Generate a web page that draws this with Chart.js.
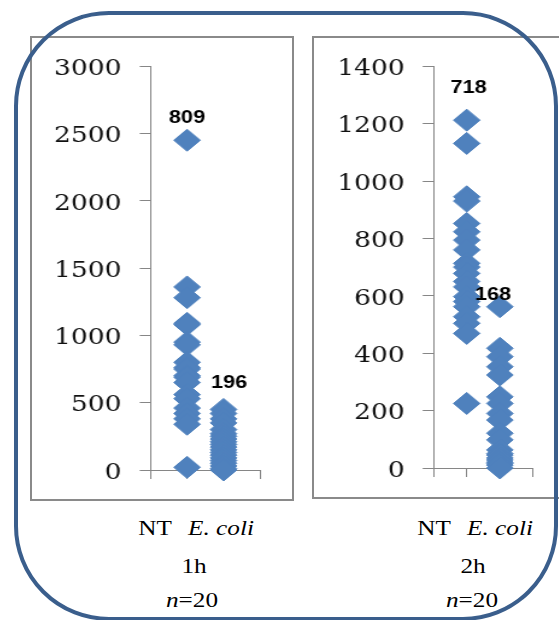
<!DOCTYPE html>
<html>
<head>
<meta charset="utf-8">
<script src="https://cdn.jsdelivr.net/npm/chart.js@4.4.1/dist/chart.umd.min.js"></script>
<style>
  body { margin:0; width:559px; height:620px; overflow:hidden; background:#fff; position:relative; }
  .frame { position:absolute; left:14px; top:11px; width:544px; height:610px; box-sizing:border-box;
           border:4.5px solid #3a5e8c; border-radius:95px; z-index:5; pointer-events:none; }
  .panel { position:absolute; border:2px solid #8a8a8a; background:#fff; box-sizing:border-box; overflow:hidden; }
  .stretch { position:absolute; left:0; top:0; transform:scaleX(1.2); transform-origin:0 0; }
  .lbl { position:absolute; font-family:'Liberation Serif', serif; font-size:21px; color:#000;
         white-space:nowrap; transform:translate(-50%,-50%) scaleX(1.2); }
</style>
</head>
<body>
<div class="panel" style="left:30px;top:36px;width:264px;height:465px;">
  <div class="stretch" style="width:216.67px;height:461px;"><canvas id="c1"></canvas></div>
</div>
<div class="panel" style="left:312px;top:36px;width:270px;height:463px;">
  <div class="stretch" style="width:221.67px;height:459px;"><canvas id="c2"></canvas></div>
</div>

<div class="lbl" style="left:155px;top:528px;">NT</div>
<div class="lbl" style="left:221px;top:528px;"><i>E. coli</i></div>
<div class="lbl" style="left:194px;top:566px;">1h</div>
<div class="lbl" style="left:192px;top:600px;"><i>n</i>=20</div>

<div class="lbl" style="left:434px;top:528px;">NT</div>
<div class="lbl" style="left:500px;top:528px;"><i>E. coli</i></div>
<div class="lbl" style="left:473px;top:566px;">2h</div>
<div class="lbl" style="left:472px;top:600px;"><i>n</i>=20</div>

<div class="frame"></div>

<script>
// x positions of the two groups (NT, E. coli) on a 0..3 axis
var groupX = [1, 2];

// 1h, n=20
var nt1h = [2450, 1360, 1280, 1090, 1080, 950, 930, 800, 760, 750, 700, 690, 650, 560, 530, 460, 420, 380, 340, 20];
var ec1h = [450, 420, 380, 350, 300, 270, 250, 230, 210, 190, 170, 150, 130, 110, 90, 70, 50, 30, 10, 0];
// 2h, n=20
var nt2h = [1212, 1131, 945, 930, 852, 823, 794, 760, 713, 700, 678, 650, 631, 597, 580, 562, 527, 504, 469, 225];
var ec2h = [562, 417, 388, 353, 324, 248, 225, 190, 167, 121, 98, 63, 50, 45, 35, 28, 20, 15, 10, 0];

// mean labels and where they sit (x, y in data units)
var labels1h = ["809", "196"];
var labelX1h = [1, 2.15];
var labelY1h = [2618, 646];
var labels2h = ["718", "168"];
var labelX2h = [1.06, 1.79];
var labelY2h = [1323, 603];

var yMax1h = 3000, yStep1h = 500;
var yMax2h = 1400, yStep2h = 200;

var axisGrey = '#868686';
var blue = '#4F81BD';

var meanLabels = {
  id: 'meanLabels',
  afterDatasetsDraw: function(chart, args, opts) {
    var ctx = chart.ctx, xs = chart.scales.x, ys = chart.scales.y;
    ctx.save();
    ctx.font = 'bold 18px "Liberation Sans", Arial, sans-serif';
    ctx.fillStyle = '#000';
    ctx.textAlign = 'center';
    ctx.textBaseline = 'middle';
    for (var i = 0; i < opts.text.length; i++) {
      ctx.fillText(opts.text[i], xs.getPixelForValue(opts.x[i]), ys.getPixelForValue(opts.y[i]));
    }
    ctx.restore();
  }
};

function toPoints(vals, x) {
  return vals.map(function(v) { return { x: x, y: v }; });
}

function makeChart(id, nt, ec, yMax, yStep, txt, lx, ly, axisW, padRight) {
  var pt = {
    pointStyle: 'rectRot',
    pointRadius: 11,
    backgroundColor: blue,
    borderColor: blue,
    borderWidth: 1,
    showLine: false,
    clip: false
  };
  return new Chart(document.getElementById(id), {
    type: 'scatter',
    data: {
      datasets: [
        Object.assign({ label: 'NT', data: toPoints(nt, groupX[0]) }, pt),
        Object.assign({ label: 'E. coli', data: toPoints(ec, groupX[1]) }, pt)
      ]
    },
    options: {
      responsive: true,
      maintainAspectRatio: false,
      animation: false,
      events: [],
      layout: { padding: { top: 28, right: padRight, bottom: 20, left: 0 } },
      plugins: {
        legend: { display: false },
        tooltip: { enabled: false },
        meanLabels: { text: txt, x: lx, y: ly }
      },
      scales: {
        x: {
          type: 'linear',
          min: 0, max: 3,
          ticks: { display: false, stepSize: 1 },
          grid: { drawOnChartArea: false, drawTicks: true, tickLength: 9, color: axisGrey },
          border: { color: axisGrey },
          afterFit: function(s) { s.height = 9; }
        },
        y: {
          min: 0, max: yMax,
          ticks: {
            stepSize: yStep,
            padding: 15,
            labelOffset: 3,
            color: '#111',
            font: { family: '"DejaVu Serif", serif', size: 22 },
            callback: function(v) { return String(v); }
          },
          grid: { drawOnChartArea: false, drawTicks: true, tickLength: 9, color: axisGrey },
          border: { color: axisGrey },
          afterFit: function(s) { s.width = axisW; }
        }
      }
    },
    plugins: [meanLabels]
  });
}

makeChart('c1', nt1h, ec1h, yMax1h, yStep1h, labels1h, labelX1h, labelY1h, 98.33, 27.5);
makeChart('c2', nt2h, ec2h, yMax2h, yStep2h, labels2h, labelX2h, labelY2h, 99.17, 40);
</script>
</body>
</html>
